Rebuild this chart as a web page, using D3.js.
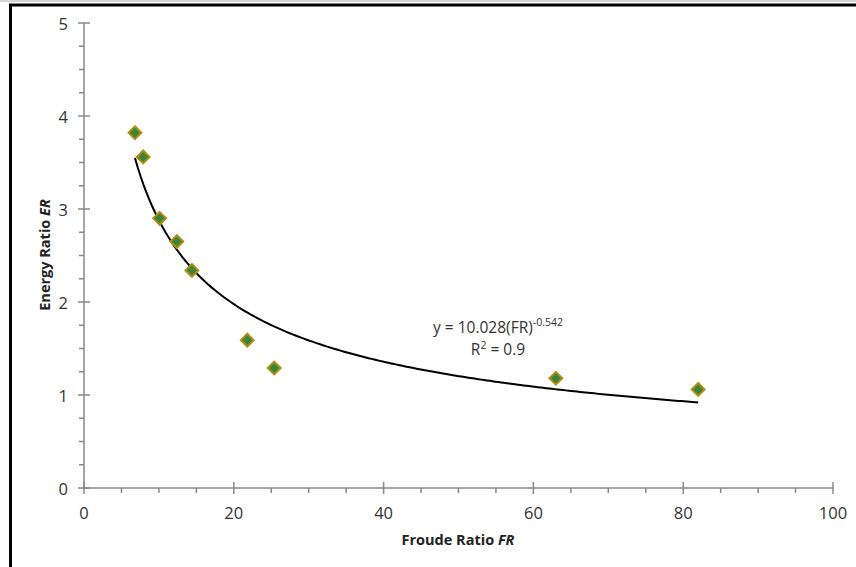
<!DOCTYPE html>
<html>
<head>
<script src="https://d3js.org/d3.v7.min.js"></script>
<style>
  body { margin: 0; background: #fff; }
  text { font-family: "Open Sans", "Liberation Sans", sans-serif; }
</style>
</head>
<body>
<svg id="chart"></svg>
<script>
// Observed points (Froude ratio, energy ratio)
const froude = [6.8, 7.9, 10.1, 12.4, 14.4, 21.8, 25.4, 63.0, 82.0];
const energy = [3.82, 3.56, 2.90, 2.65, 2.34, 1.59, 1.29, 1.18, 1.06];

// Power trend line as printed on the chart
const fitCoef = 10.028;
const fitExp = -0.542;
const fitR2 = 0.9;

const xTicks = [0, 20, 40, 60, 80, 100];
const yTicks = [0, 1, 2, 3, 4, 5];

const width = 856, height = 567;
const svg = d3.select('#chart').attr('width', width).attr('height', height);

// frame
svg.append('line').attr('x1', 0).attr('x2', width).attr('y1', 1).attr('y2', 1)
  .attr('stroke', '#aaa').attr('stroke-width', 1);
svg.append('line').attr('x1', 9).attr('x2', width).attr('y1', 5).attr('y2', 5)
  .attr('stroke', '#000').attr('stroke-width', 3);
svg.append('line').attr('x1', 10.5).attr('x2', 10.5).attr('y1', 4).attr('y2', height)
  .attr('stroke', '#000').attr('stroke-width', 3);

const x = d3.scaleLinear().domain([0, 100]).range([84, 833]);
const y = d3.scaleLinear().domain([0, 5]).range([488, 23]);

const axisColor = '#888';

// x axis: minor ticks below, major ticks crossing
const gx = svg.append('g');
gx.append('line').attr('x1', x(0)).attr('x2', x(100)).attr('y1', y(0)).attr('y2', y(0))
  .attr('stroke', axisColor).attr('stroke-width', 1.5);
gx.selectAll('.minor').data(d3.range(0, 101, 5).filter(v => v % 20 !== 0)).enter()
  .append('line')
  .attr('x1', d => x(d)).attr('x2', d => x(d))
  .attr('y1', y(0)).attr('y2', y(0) + 5)
  .attr('stroke', axisColor).attr('stroke-width', 1.5);
gx.selectAll('.major').data(xTicks).enter()
  .append('line')
  .attr('x1', d => x(d)).attr('x2', d => x(d))
  .attr('y1', y(0) - 6).attr('y2', y(0) + 6)
  .attr('stroke', axisColor).attr('stroke-width', 1.5);
gx.selectAll('.lbl').data(xTicks).enter()
  .append('text')
  .attr('x', d => x(d)).attr('y', y(0) + 31)
  .attr('text-anchor', 'middle')
  .attr('font-size', 16.5).attr('fill', '#333')
  .text(d => d);

// y axis
const gy = svg.append('g');
gy.append('line').attr('x1', x(0)).attr('x2', x(0)).attr('y1', y(0)).attr('y2', y(5))
  .attr('stroke', axisColor).attr('stroke-width', 1.5);
gy.selectAll('.minor').data(d3.range(0, 5.01, 0.25).filter(v => v % 1 !== 0)).enter()
  .append('line')
  .attr('x1', x(0) - 5).attr('x2', x(0))
  .attr('y1', d => y(d)).attr('y2', d => y(d))
  .attr('stroke', axisColor).attr('stroke-width', 1.5);
gy.selectAll('.major').data(yTicks).enter()
  .append('line')
  .attr('x1', x(0) - 6).attr('x2', x(0) + 6)
  .attr('y1', d => y(d)).attr('y2', d => y(d))
  .attr('stroke', axisColor).attr('stroke-width', 1.5);
gy.selectAll('.lbl').data(yTicks).enter()
  .append('text')
  .attr('x', x(0) - 16).attr('y', d => y(d) + 7)
  .attr('text-anchor', 'end')
  .attr('font-size', 16.5).attr('fill', '#333')
  .text(d => d);

// axis titles
const xt = svg.append('text')
  .attr('x', 458).attr('y', 545)
  .attr('text-anchor', 'middle')
  .attr('font-size', 14.5).attr('font-weight', 'bold').attr('fill', '#222');
xt.append('tspan').text('Froude Ratio ');
xt.append('tspan').attr('font-style', 'italic').text('FR');

const yt = svg.append('text')
  .attr('transform', 'translate(50,255) rotate(-90)')
  .attr('text-anchor', 'middle')
  .attr('font-size', 14.5).attr('font-weight', 'bold').attr('fill', '#222');
yt.append('tspan').text('Energy Ratio ');
yt.append('tspan').attr('font-style', 'italic').text('ER');

// trend line
const xMin = d3.min(froude), xMax = d3.max(froude);
const trend = d3.range(0, 201).map(i => {
  const fr = xMin + (xMax - xMin) * i / 200;
  return [fr, fitCoef * Math.pow(fr, fitExp)];
});
svg.append('path')
  .datum(trend)
  .attr('d', d3.line().x(d => x(d[0])).y(d => y(d[1])))
  .attr('fill', 'none').attr('stroke', '#000').attr('stroke-width', 2);

// markers
const pts = froude.map((f, i) => ({ f, e: energy[i] }));
svg.selectAll('.pt').data(pts).enter()
  .append('path')
  .attr('d', d3.symbol().type(d3.symbolDiamond2).size(105))
  .attr('transform', d => `translate(${x(d.f)},${y(d.e)})`)
  .attr('fill', '#3b8538').attr('stroke', '#b58c12').attr('stroke-width', 2);

// equation
const eq = svg.append('text')
  .attr('x', 498).attr('y', 333)
  .attr('text-anchor', 'middle')
  .attr('font-size', 15.5).attr('fill', '#333');
eq.append('tspan').text(`y = ${fitCoef.toFixed(3)}(FR)`);
eq.append('tspan').attr('dy', -7).attr('font-size', 10.5).text(fitExp.toFixed(3));
const r2 = svg.append('text')
  .attr('x', 498).attr('y', 355)
  .attr('text-anchor', 'middle')
  .attr('font-size', 15.5).attr('fill', '#333');
r2.append('tspan').text('R');
r2.append('tspan').attr('dy', -6).attr('font-size', 10.5).text('2');
r2.append('tspan').attr('dy', 6).text(` = ${fitR2}`);
</script>
</body>
</html>
